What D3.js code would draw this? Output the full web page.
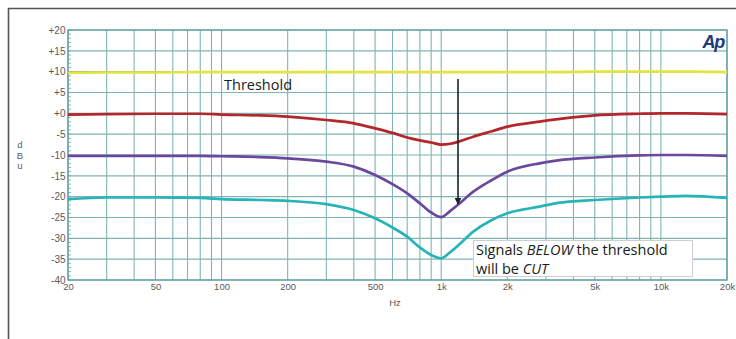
<!DOCTYPE html>
<html><head><meta charset="utf-8">
<script src="https://cdn.jsdelivr.net/npm/d3@7"></script>
<style>
html,body{margin:0;padding:0;background:#fff;}
svg{display:block;}
</style></head>
<body><svg id="c" width="736" height="339"></svg>
<script>
// ---- data ----
const freqs = [20, 30, 50, 80, 100, 150, 200, 300, 400, 500, 600, 700, 800, 900, 1000, 1100, 1200, 1400, 1700, 2000, 2800, 3400, 5000, 8000, 10000, 13000, 20000];
const yellowDb = [9.7, 9.8, 9.8, 9.9, 9.9, 9.9, 9.9, 9.9, 9.9, 9.9, 9.9, 9.9, 9.9, 9.9, 9.9, 9.9, 9.9, 9.9, 9.9, 9.9, 9.9, 9.9, 10.0, 10.0, 10.0, 10.0, 9.9];
const redDb    = [-0.3, -0.2, -0.1, -0.1, -0.3, -0.5, -0.8, -1.6, -2.4, -3.6, -4.7, -5.8, -6.5, -7.0, -7.5, -7.3, -6.8, -5.6, -4.3, -3.2, -2.0, -1.4, -0.5, -0.1, 0.0, 0.0, -0.2];
const purpleDb = [-10.2, -10.2, -10.2, -10.2, -10.3, -10.5, -10.8, -11.6, -12.8, -14.8, -17.0, -19.2, -21.6, -23.8, -24.9, -23.4, -21.8, -18.8, -16.0, -14.0, -12.0, -11.3, -10.6, -10.1, -10.0, -10.0, -10.2];
const cyanDb   = [-20.6, -20.2, -20.2, -20.3, -20.6, -20.8, -21.0, -21.8, -23.2, -25.2, -27.4, -29.6, -32.2, -34.0, -34.8, -33.3, -31.6, -28.4, -25.6, -24.0, -22.4, -21.5, -20.8, -20.2, -20.0, -19.8, -20.3];
const seriesNames = ["yellow", "red", "purple", "cyan"];
const seriesColors = ["#e4e43c", "#b3262b", "#6a48a0", "#27b4b8"];
const yTicks = [20, 15, 10, 5, 0, -5, -10, -15, -20, -25, -30, -35, -40];
const xTicks = [20, 50, 100, 200, 500, 1000, 2000, 5000, 10000, 20000];
const xTickLabels = ["20", "50", "100", "200", "500", "1k", "2k", "5k", "10k", "20k"];
const xLabel = "Hz";
const yLabel = ["d", "B", "u"];
const thresholdText = "Threshold";
const noteLine1 = ["Signals ", "BELOW", " the threshold"];
const noteLine2 = ["will be ", "CUT"];

// ---- layout ----
const svg = d3.select("#c");
const L = 68, R = 727, T = 30, B = 280;
const x = d3.scaleLog().domain([20, 20000]).range([L, R]);
const y = d3.scaleLinear().domain([-40, 20]).range([B, T]);
const labelFont = "Liberation Sans, Arial, sans-serif";
const noteFont = "Open Sans, sans-serif";

// outer frame
svg.append("path").attr("d", "M8.5,339 L8.5,8.5 L736,8.5").attr("fill", "none").attr("stroke", "#555").attr("stroke-width", 1.6);

// grid
const gridColor = "#80b4b4";
const vGrid = [];
for (let dec = 10; dec <= 10000; dec *= 10) for (let m = 1; m <= 9; m++) { const f = dec * m; if (f >= 20 && f <= 20000) vGrid.push(f); }
svg.append("g").selectAll("line").data(vGrid).join("line")
  .attr("x1", d => x(d)).attr("x2", d => x(d)).attr("y1", T).attr("y2", B)
  .attr("stroke", gridColor).attr("stroke-width", 1.1);
svg.append("g").selectAll("line").data(yTicks).join("line")
  .attr("x1", L).attr("x2", R).attr("y1", d => y(d)).attr("y2", d => y(d))
  .attr("stroke", gridColor).attr("stroke-width", 1.1);

// minor ticks on left axis
svg.append("g").selectAll("line").data(d3.range(-40, 21, 1)).join("line")
  .attr("x1", L).attr("x2", L + 3).attr("y1", d => y(d)).attr("y2", d => y(d))
  .attr("stroke", "#6aa6a6").attr("stroke-width", 0.8);

// plot border
svg.append("rect").attr("x", L).attr("y", T).attr("width", R - L).attr("height", B - T)
  .attr("fill", "none").attr("stroke", "#5e9e9e").attr("stroke-width", 1.3);

// axes
const yAxis = d3.axisLeft(y).tickValues(yTicks).tickSize(0).tickPadding(2.5)
  .tickFormat(d => d >= 0 ? "+" + d : String(d));
const gy = svg.append("g").attr("transform", `translate(${L},0)`).call(yAxis);
gy.select(".domain").remove();
gy.selectAll("text").attr("font-family", labelFont).attr("font-size", 10).attr("fill", "#5a5a5a");

const xAxis = d3.axisBottom(x).tickValues(xTicks).tickSize(0).tickPadding(3)
  .tickFormat((d, i) => xTickLabels[i]);
const gx = svg.append("g").attr("transform", `translate(0,${B})`).call(xAxis);
gx.select(".domain").remove();
gx.selectAll("text").attr("font-family", labelFont).attr("font-size", 9.5).attr("fill", "#5a5a5a");

svg.append("text").attr("x", 395).attr("y", 306).attr("text-anchor", "middle")
  .attr("font-family", labelFont).attr("font-size", 9.5).attr("fill", "#5a5a5a").text(xLabel);
svg.selectAll(".ylab").data(yLabel).join("text").attr("class", "ylab")
  .attr("x", 20).attr("y", (d, i) => 148 + i * 10.5).attr("text-anchor", "middle")
  .attr("font-family", labelFont).attr("font-size", 9.5).attr("fill", "#5a5a5a").text(d => d);

// curves
const allSeries = [yellowDb, redDb, purpleDb, cyanDb];
const line = d3.line().x(d => x(d[0])).y(d => y(d[1])).curve(d3.curveMonotoneX);
allSeries.forEach((vals, i) => {
  svg.append("path").datum(freqs.map((f, j) => [f, vals[j]]))
    .attr("fill", "none").attr("stroke", seriesColors[i]).attr("stroke-width", 2.7)
    .attr("stroke-linejoin", "round").attr("d", line);
});

// annotations
svg.append("text").attr("x", 224).attr("y", 89.5).attr("font-family", noteFont)
  .attr("font-size", 14.5).attr("font-weight", 500).attr("fill", "#172020").text(thresholdText);

svg.append("defs").append("marker").attr("id", "ah").attr("viewBox", "0 0 10 10")
  .attr("refX", 9).attr("refY", 5).attr("markerWidth", 7).attr("markerHeight", 7)
  .attr("markerUnits", "userSpaceOnUse").attr("orient", "auto")
  .append("path").attr("d", "M0,0 L10,5 L0,10 Z").attr("fill", "#142424");
svg.append("line").attr("x1", 458).attr("x2", 458).attr("y1", 79).attr("y2", 204)
  .attr("stroke", "#142424").attr("stroke-width", 1.6).attr("marker-end", "url(#ah)");

svg.append("rect").attr("x", 473.5).attr("y", 240.5).attr("width", 219).attr("height", 36)
  .attr("fill", "#fff").attr("stroke", "#c8d0d0").attr("stroke-width", 1);
const t1 = svg.append("text").attr("x", 476).attr("y", 254.5).attr("font-family", noteFont)
  .attr("font-size", 14.5).attr("font-weight", 500).attr("fill", "#172020");
noteLine1.forEach((s, i) => t1.append("tspan").attr("font-style", i === 1 ? "italic" : "normal").text(s));
const t2 = svg.append("text").attr("x", 476).attr("y", 273.5).attr("font-family", noteFont)
  .attr("font-size", 14.5).attr("font-weight", 500).attr("fill", "#172020");
noteLine2.forEach((s, i) => t2.append("tspan").attr("font-style", i === 1 ? "italic" : "normal").text(s));

// logo
svg.append("text").attr("x", 724).attr("y", 48).attr("text-anchor", "end")
  .attr("font-family", labelFont).attr("font-size", 18).attr("font-weight", "bold")
  .attr("font-style", "italic").attr("letter-spacing", -1.2).attr("fill", "#1c3b7c").text("Ap");
</script></body></html>
